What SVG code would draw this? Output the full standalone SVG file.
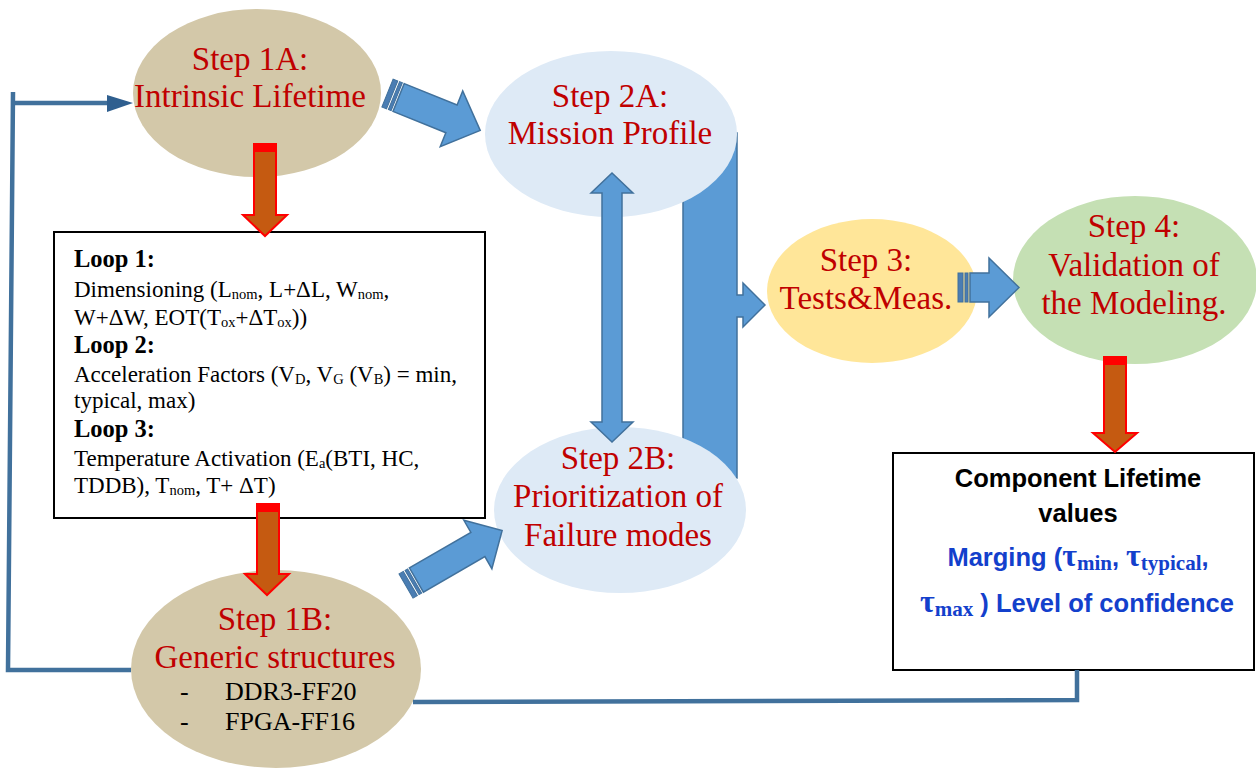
<svg xmlns="http://www.w3.org/2000/svg" width="1256" height="769" viewBox="0 0 1256 769">
<style>
.st{font-family:"Liberation Serif","Times New Roman",serif;font-size:33px;fill:#C00000;text-anchor:middle}
.bk{font-family:"Liberation Serif","Times New Roman",serif;font-size:26px;fill:#000}
.lt{font-family:"Liberation Serif","Times New Roman",serif;font-size:23px;fill:#000}
.lb{font-family:"Liberation Serif","Times New Roman",serif;font-size:24.5px;font-weight:bold;fill:#000}
.s{font-size:14.5px}
.ab{font-family:"Liberation Sans",Arial,sans-serif;font-size:25.5px;font-weight:bold;text-anchor:middle}
.tau{font-family:"Liberation Serif","Times New Roman",serif;font-size:32px;font-weight:bold}
.ts{font-family:"Liberation Serif","Times New Roman",serif;font-size:21px;font-weight:bold}
.tan{fill:#D3C8A9}
.lblue{fill:#DEEAF6}
.blk{fill:#5B9BD5;stroke:#41719C;stroke-width:1.5;stroke-linejoin:miter}
.stripe{fill:#4A7DB3;stroke:#41719C;stroke-width:1}
.red{fill:#C55A11;stroke:#FF0000;stroke-width:2}
.band{fill:#FF0000}
.loop{fill:none;stroke:#41719C;stroke-width:4.5}
.box{fill:#fff;stroke:#000;stroke-width:2}
</style>
<defs>
<mask id="barMask" maskUnits="userSpaceOnUse" x="0" y="0" width="1256" height="769">
<rect x="0" y="0" width="1256" height="769" fill="#fff"/>
<ellipse cx="611" cy="134" rx="126" ry="83" fill="#000"/>
<ellipse cx="620" cy="510" rx="126" ry="83" fill="#000"/>
</mask>
</defs>
<rect x="0" y="0" width="1256" height="769" fill="#fff"/>

<g id="node-loops">
<rect class="box" x="54" y="232" width="431" height="286"/>
<text class="lb" x="74" y="267">Loop 1:</text>
<text class="lt" x="74" y="297">Dimensioning (L<tspan class="s" dy="2">nom</tspan><tspan dy="-2">, L+ΔL, W</tspan><tspan class="s" dy="2">nom</tspan><tspan dy="-2">,</tspan></text>
<text class="lt" x="74" y="325">W+ΔW, EOT(T<tspan class="s" dy="2">ox</tspan><tspan dy="-2">+ΔT</tspan><tspan class="s" dy="2">ox</tspan><tspan dy="-2">))</tspan></text>
<text class="lb" x="74" y="353">Loop 2:</text>
<text class="lt" x="74" y="382">Acceleration Factors (V<tspan class="s" dy="2">D</tspan><tspan dy="-2">, V</tspan><tspan class="s" dy="2">G</tspan><tspan dy="-2"> (V</tspan><tspan class="s" dy="2">B</tspan><tspan dy="-2">) = min,</tspan></text>
<text class="lt" x="74" y="408">typical, max)</text>
<text class="lb" x="74" y="437">Loop 3:</text>
<text class="lt" x="74" y="466">Temperature Activation (E<tspan class="s" dy="2">a</tspan><tspan dy="-2">(BTI, HC,</tspan></text>
<text class="lt" x="74" y="493">TDDB), T<tspan class="s" dy="2">nom</tspan><tspan dy="-2">, T+ ΔT)</tspan></text>
</g>

<g id="node-result">
<rect class="box" x="893" y="453" width="361" height="217"/>
<text class="ab" x="1078" y="487" fill="#000">Component Lifetime</text>
<text class="ab" x="1078" y="522" fill="#000">values</text>
<text class="ab" x="1078" y="566" fill="#1340CC">Marging (<tspan class="tau">τ</tspan><tspan class="ts" dy="4">min</tspan><tspan dy="-4">, </tspan><tspan class="tau">τ</tspan><tspan class="ts" dy="4">typical</tspan><tspan dy="-4">,</tspan></text>
<text class="ab" x="1077" y="612" fill="#1340CC"><tspan class="tau">τ</tspan><tspan class="ts" dy="4">max</tspan><tspan dy="-4"> ) Level of confidence</tspan></text>
</g>

<g id="node-step1a">
<ellipse class="tan" cx="257" cy="93" rx="124" ry="84"/>
<text class="st" x="250" y="70">Step 1A:</text>
<text class="st" x="250" y="107">Intrinsic Lifetime</text>
</g>

<g id="node-step1b">
<ellipse class="tan" cx="276" cy="669" rx="145" ry="99"/>
<text class="st" x="275" y="630">Step 1B:</text>
<text class="st" x="275" y="668">Generic structures</text>
<text class="bk" x="180" y="700">-</text>
<text class="bk" x="225" y="700">DDR3-FF20</text>
<text class="bk" x="180" y="730">-</text>
<text class="bk" x="225" y="730">FPGA-FF16</text>
</g>

<g id="node-step2a">
<ellipse class="lblue" cx="611" cy="134" rx="126" ry="83"/>
<text class="st" x="610" y="107">Step 2A:</text>
<text class="st" x="610" y="144">Mission Profile</text>
</g>

<g id="node-step2b">
<ellipse class="lblue" cx="620" cy="510" rx="126" ry="83"/>
<text class="st" x="618" y="469">Step 2B:</text>
<text class="st" x="618" y="507">Prioritization of</text>
<text class="st" x="618" y="546">Failure modes</text>
</g>

<g id="node-step3">
<ellipse cx="872" cy="291" rx="105" ry="72" fill="#FFE699"/>
<text class="st" x="866" y="271">Step 3:</text>
<text class="st" x="866" y="309">Tests&amp;Meas.</text>
</g>

<g id="node-step4">
<ellipse cx="1135" cy="280" rx="122" ry="84" fill="#C5E0B4"/>
<text class="st" x="1134" y="237">Step 4:</text>
<text class="st" x="1134" y="276">Validation of</text>
<text class="st" x="1134" y="314">the Modeling.</text>
</g>

<g id="connectors">
<path class="loop" d="M13,92 L8,670 H131"/>
<path class="loop" d="M13,103 H110"/>
<polygon points="107,95 133,103 107,112" fill="#2F5F8F"/>
<path class="loop" d="M413,702 L1077,700 V670"/>

<path class="blk" mask="url(#barMask)" d="M683,133 H737 V295 H743 V283 L765,305 L743,327 V317 H737 V478 H683 Z"/>

<path class="blk" d="M612,173 L633,193 H622 V422 H633 L612,442 L591,422 H602 V193 H591 Z"/>

<g transform="translate(387.5,93) rotate(22)">
<rect class="stripe" x="0" y="-15" width="5" height="30"/>
<rect class="stripe" x="7" y="-15" width="3" height="30"/>
<path class="blk" d="M12,-15 H69 V-30 L100,0 L69,30 V15 H12 Z"/>
</g>

<g transform="translate(406,586) rotate(-30)">
<rect class="stripe" x="0" y="-14" width="5" height="28"/>
<rect class="stripe" x="7" y="-14" width="3" height="28"/>
<path class="blk" d="M12,-14 H83 V-28 L111,0 L83,28 V14 H12 Z"/>
</g>

<rect class="stripe" x="958" y="273" width="5" height="29"/>
<rect class="stripe" x="965" y="273" width="3" height="29"/>
<path class="blk" d="M970,273 H989 V258 L1019,287.5 L989,317 V302 H970 Z"/>

<path class="red" d="M254,144 H276 V215 H287 L265,236 L243,215 H254 Z"/>
<rect class="band" x="253" y="143" width="24" height="9"/>
<path class="red" d="M257,504 H279 V574 H289 L267,595 L245,574 H257 Z"/>
<rect class="band" x="256" y="503" width="24" height="9"/>
<path class="red" d="M1104,357 H1126 V433 H1137 L1115,452 L1093,433 H1104 Z"/>
<rect class="band" x="1103" y="356" width="24" height="9"/>
</g>
</svg>
